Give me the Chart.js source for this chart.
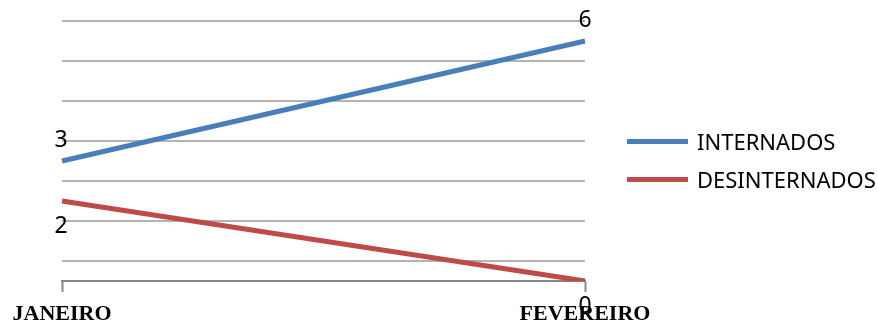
<!DOCTYPE html>
<html>
<head>
<meta charset="utf-8">
<script src="https://cdn.jsdelivr.net/npm/chart.js@4"></script>
<style>
    html, body { margin: 0; padding: 0; background: #fff; }
    #wrap { position: relative; width: 877px; height: 327px; }
    #legend { position: absolute; left: 627px; top: 126px; font-family: "Noto Sans", sans-serif; font-size: 22px; color: #000; }
    #legend .item { display: flex; align-items: center; height: 30px; margin-bottom: 8px; white-space: nowrap; }
    #legend .swatch { width: 61px; height: 5px; margin-right: 9px; }
</style>
</head>
<body>
<div id="wrap">
    <canvas id="lineChart"></canvas>
    <div id="legend"></div>
</div>
<script>
const months = ['JANEIRO', 'FEVEREIRO'];
const internados = [3, 6];
const desinternados = [2, 0];
const gridTicks = [0.5, 1.5, 2.5, 3.5, 4.5, 5.5, 6.5];

const seriesColors = ['#4A7EBB', '#BE4B48'];

// valores escritos junto aos pontos (acima para azul, abaixo para vermelho)
const valueLabels = {
    id: 'valueLabels',
    afterDatasetsDraw(chart) {
        const ctx = chart.ctx;
        ctx.save();
        ctx.font = '23px "Noto Sans"';
        ctx.fillStyle = '#000';
        ctx.textAlign = 'center';
        ctx.textBaseline = 'middle';
        chart.data.datasets.forEach((ds, i) => {
            const meta = chart.getDatasetMeta(i);
            meta.data.forEach((pt, j) => {
                const dy = i === 0 ? -21 : 25;
                ctx.fillText(String(ds.data[j]), pt.x - (j === 0 ? 1 : 0), pt.y + dy);
            });
        });
        ctx.restore();
    }
};

// legenda em HTML, montada a partir dos datasets
const htmlLegend = {
    id: 'htmlLegend',
    afterUpdate(chart) {
        const box = document.getElementById('legend');
        box.innerHTML = '';
        chart.data.datasets.forEach(ds => {
            const item = document.createElement('div');
            item.className = 'item';
            const sw = document.createElement('span');
            sw.className = 'swatch';
            sw.style.background = ds.borderColor;
            const txt = document.createElement('span');
            txt.textContent = ds.label;
            item.appendChild(sw);
            item.appendChild(txt);
            box.appendChild(item);
        });
    }
};

const ctx = document.getElementById('lineChart').getContext('2d');
const chart = new Chart(ctx, {
    type: 'line',
    data: {
        labels: months,
        datasets: [{
            label: 'INTERNADOS',
            data: internados,
            borderColor: seriesColors[0],
            backgroundColor: seriesColors[0],
            borderWidth: 5,
            pointRadius: 0,
            tension: 0
        }, {
            label: 'DESINTERNADOS',
            data: desinternados,
            borderColor: seriesColors[1],
            backgroundColor: seriesColors[1],
            borderWidth: 5,
            pointRadius: 0,
            tension: 0
        }]
    },
    options: {
        responsive: true,
        maintainAspectRatio: false,
        animation: false,
        layout: { padding: { top: 21, left: 0, right: 292, bottom: 0 } },
        scales: {
            x: {
                offset: false,
                grid: {
                    drawOnChartArea: false,
                    drawTicks: true,
                    tickLength: 11,
                    tickWidth: 2,
                    tickColor: '#868686'
                },
                border: { display: true, color: '#868686', width: 2 },
                ticks: {
                    autoSkip: false,
                    maxRotation: 0,
                    padding: 9,
                    color: '#000',
                    font: { family: '"Liberation Serif", "Times New Roman", serif', size: 22, weight: 'bold' }
                },
                afterFit: function (scale) { scale.height = 46; }
            },
            y: {
                min: 0,
                max: 6.5,
                afterBuildTicks: function (scale) {
                    scale.ticks = gridTicks.map(v => ({ value: v }));
                },
                grid: { color: '#B3B3B3', lineWidth: 2, drawTicks: false },
                border: { display: false },
                ticks: { display: false },
                afterFit: function (scale) { scale.width = 62; }
            }
        },
        plugins: {
            legend: { display: false },
            tooltip: { enabled: false }
        }
    },
    plugins: [valueLabels, htmlLegend]
});
</script>
</body>
</html>
